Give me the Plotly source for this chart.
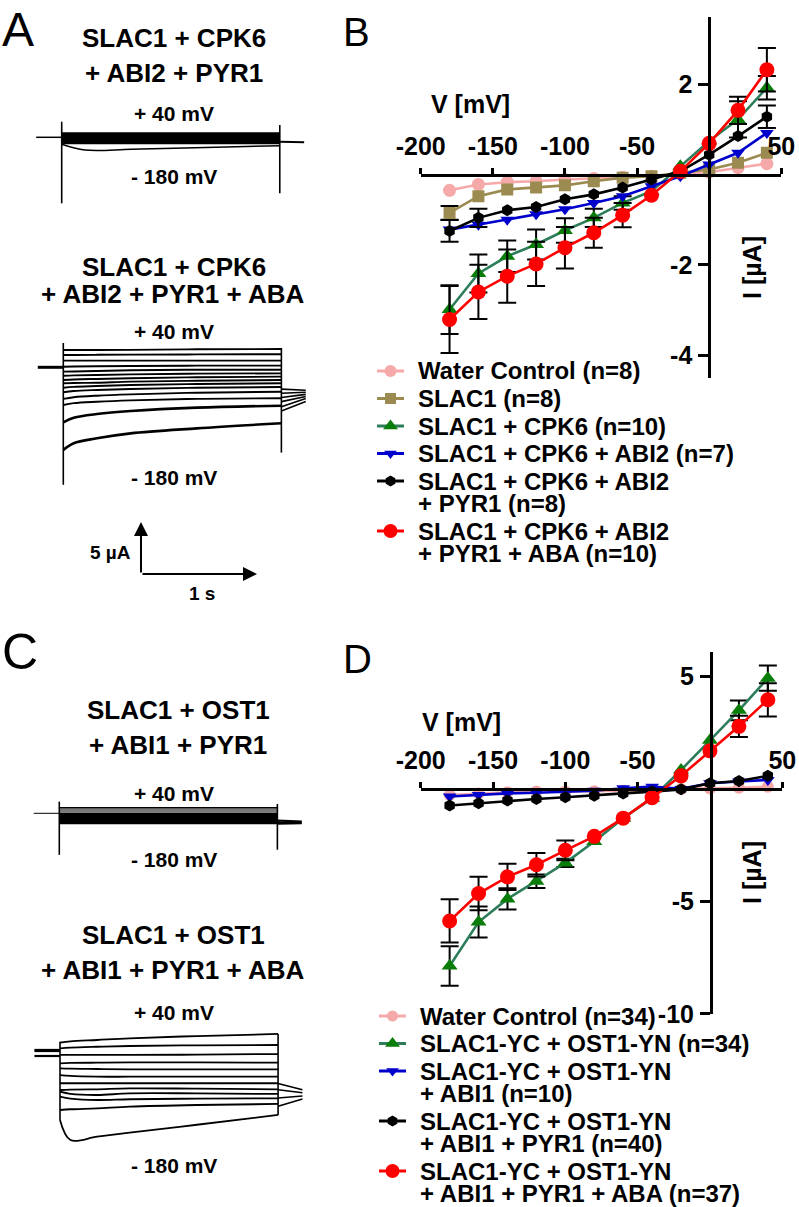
import plotly.graph_objects as go

W, H = 799, 1207
FONT = "Liberation Sans"


def fx(px):
    return px / W


def fy(py):
    return 1 - py / H


# ---------------- Panel B data (I in uA vs V in mV) ----------------
voltage_mV = [-180, -160, -140, -120, -100, -80, -60, -40, -20, 0, 20, 40]

b_names = ["Water Control (n=8)", "SLAC1 (n=8)", "SLAC1 + CPK6 (n=10)",
           "SLAC1 + CPK6 + ABI2 (n=7)", "SLAC1 + CPK6 + ABI2<br>+ PYR1 (n=8)",
           "SLAC1 + CPK6 + ABI2<br>+ PYR1 + ABA (n=10)"]
b_water = [-0.35, -0.22, -0.17, -0.15, -0.11, -0.09, -0.06, -0.04, 0.02, 0.05, 0.15, 0.24]
b_slac1 = [-0.85, -0.48, -0.33, -0.29, -0.24, -0.15, -0.07, -0.04, 0.04, 0.11, 0.26, 0.48]
b_cpk6 = [-2.99, -2.19, -1.81, -1.55, -1.24, -0.96, -0.63, -0.37, 0.18, 0.74, 1.22, 1.92]
b_abi2 = [-1.22, -1.11, -1.00, -0.88, -0.77, -0.63, -0.48, -0.26, -0.04, 0.22, 0.48, 0.92]
b_pyr1 = [-1.25, -0.96, -0.79, -0.72, -0.55, -0.44, -0.29, -0.11, 0.07, 0.44, 0.85, 1.28]
b_aba = [-3.21, -2.60, -2.25, -1.98, -1.62, -1.29, -0.90, -0.46, 0.07, 0.69, 1.42, 2.32]
b_slac1_err = [0.15, None, None, None, None, None, None, None, None, None, None, None]
b_cpk6_err = [0.54, 0.42, 0.35, 0.33, 0.27, 0.20, 0.15, None, None, None, 0.40, 0.26]
b_pyr1_err = [0.24, 0.20, None, None, None, None, None, None, None, None, None, 0.25]
b_aba_err = [0.74, 0.60, 0.59, 0.49, 0.46, 0.33, 0.27, None, None, None, 0.30, 0.48]

# ---------------- Panel D data ----------------
d_names = ["Water Control (n=34)", "SLAC1-YC + OST1-YN (n=34)",
           "SLAC1-YC + OST1-YN<br>+ ABI1 (n=10)",
           "SLAC1-YC + OST1-YN<br>+ ABI1 + PYR1 (n=40)",
           "SLAC1-YC + OST1-YN<br>+ ABI1 + PYR1 + ABA (n=37)"]
d_water = [-0.27, -0.20, -0.15, -0.12, -0.12, -0.10, -0.08, -0.06, 0.00, 0.02, 0.05, 0.10]
d_ost1 = [-7.87, -5.92, -4.89, -4.10, -3.29, -2.34, -1.30, -0.42, 0.84, 2.16, 3.49, 4.92]
d_abi1 = [-0.34, -0.27, -0.20, -0.17, -0.12, -0.08, 0.03, 0.10, 0.00, 0.25, 0.33, 0.40]
d_pyr1 = [-0.74, -0.64, -0.52, -0.45, -0.37, -0.30, -0.20, -0.12, -0.02, 0.25, 0.35, 0.58]
d_aba = [-5.87, -4.65, -3.91, -3.37, -2.73, -2.11, -1.30, -0.39, 0.58, 1.69, 2.78, 3.96]
d_ost1_err = [0.88, 0.69, 0.47, 0.30, 0.18, None, None, None, None, None, 0.44, 0.56]
d_aba_err = [0.96, 0.74, 0.58, 0.52, 0.44, None, None, None, None, None, 0.47, 0.74]

# tick labels (plain hyphen minus, as in the figure)
x_tickvals = [-200, -150, -100, -50, 50]
x_ticktext = ["-200", "-150", "-100", "-50", "50"]
b_tickvals = [-4, -2, 2]
b_ticktext = ["-4", "-2", "2"]
d_tickvals = [-10, -5, 5]
d_ticktext = ["-10", "-5", "5"]

# ---------------- Current traces (t in s, I in uA, relative to holding) ----------------
t_pre = [-0.22, 0.0]
pulse_end_s = 1.88
t_post = [1.88, 2.09]

# A, top: SLAC1 + CPK6 + ABI2 + PYR1
a1_band_uA = [0.38, 0.28, 0.18, 0.08, -0.02, -0.12, -0.22, -0.32, -0.42, -0.52, -0.58]
a1_t180 = [0, 0.2, 0.6, 1.15, 1.88]
a1_i180 = [-0.67, -1.22, -1.15, -1.00, -0.81]
a1_spike_on = [1.50, -6.35]
a1_spike_off = [1.18, -5.38]
a1_tail = [[-0.42, -0.48]]

# A, bottom: + ABA
a2_t = [0, 0.09, 0.29, 0.58, 1.15, 1.88]
a2_traces = [
    [1.66, 1.66, 1.66, 1.68, 1.73, 1.76],
    [1.18, 1.18, 1.20, 1.22, 1.24, 1.26],
    [0.64, 0.64, 0.64, 0.64, 0.64, 0.64],
    [0.06, 0.08, 0.10, 0.12, 0.16, 0.16],
    [-0.42, -0.40, -0.36, -0.29, -0.23, -0.23],
    [-0.81, -0.78, -0.74, -0.68, -0.61, -0.58],
    [-1.22, -1.17, -1.12, -1.06, -0.96, -0.90],
    [-1.54, -1.51, -1.48, -1.38, -1.29, -1.22],
    [-1.96, -1.88, -1.80, -1.70, -1.61, -1.54],
    [-2.40, -2.28, -2.18, -2.09, -1.96, -1.90],
    [-3.04, -2.88, -2.73, -2.60, -2.44, -2.35],
    [-3.62, -3.45, -3.31, -3.18, -3.04, -2.98],
    [-5.29, -4.85, -4.49, -4.20, -3.88, -3.69],
    [-7.95, -7.30, -6.83, -6.35, -5.87, -5.38],
]
a2_spike_on = [2.34, -11.3]
a2_spike_off = [1.86, -8.2]
a2_tail = [[-2.1, -2.2], [-2.5, -2.4], [-2.9, -2.6], [-3.3, -2.8], [-3.8, -3.0], [-4.2, -3.3]]
scale_I_uA = 5
scale_t_s = 1

# C, top: SLAC1 + OST1 + ABI1 + PYR1
c1_band_uA = [0.54, 0.44, 0.34, 0.24, 0.14, 0.04, -0.06, -0.18, -0.30, -0.42, -0.54,
              -0.66, -0.78, -0.90, -0.96]
c1_spike_on = [1.12, -4.0]
c1_spike_off = [0.90, -3.5]
c1_tail = [[-0.70, -0.80], [-0.85, -0.88], [-1.00, -0.95]]

# C, bottom: + ABA
c2_t = [0, 0.09, 0.32, 0.60, 1.18, 1.88]
c2_traces = [
    [1.02, 1.15, 1.28, 1.44, 1.66, 1.86],
    [0.48, 0.55, 0.63, 0.70, 0.77, 0.80],
    [-0.16, -0.16, -0.16, -0.16, -0.13, -0.07],
    [-0.96, -0.93, -0.90, -0.87, -0.87, -0.90],
    [-1.44, -1.48, -1.51, -1.54, -1.54, -1.54],
    [-2.09, -2.18, -2.25, -2.25, -2.25, -2.25],
    [-2.88, -2.88, -2.88, -2.88, -2.88, -2.88],
    [-3.53, -3.50, -3.46, -3.37, -3.40, -3.46],
    [-3.69, -3.90, -4.01, -3.85, -3.85, -3.91],
    [-4.17, -4.35, -4.49, -4.42, -4.36, -4.33],
    [-5.45, -5.38, -5.29, -5.13, -4.97, -4.87],
    [-6.41, -8.34, -8.02, -7.63, -6.87, -5.93],
]
c2_hold = [0.32, 0.22, -0.26]
c2_spike_on = [1.12, -6.41]
c2_spike_off = [1.86, -5.93]
c2_tail = [[-2.9, -3.5], [-3.5, -3.8], [-4.3, -4.1], [-5.1, -4.4]]

fig = go.Figure()

# ---------------- IV panels ----------------
ERR = dict(type="data", color="black", thickness=2, width=9, visible=True)


def add_series(y, err, name, lc, mc, sym, size, xa, ya):
    if err is not None:
        ex = [v for v, e in zip(voltage_mV, err) if e is not None]
        ey = [i for i, e in zip(y, err) if e is not None]
        ee = [e for e in err if e is not None]
        fig.add_trace(go.Scatter(x=ex, y=ey, mode="markers", xaxis=xa, yaxis=ya,
                                 marker=dict(size=1, color="rgba(0,0,0,0)"),
                                 error_y=dict(array=ee, **ERR), hoverinfo="skip"))
    fig.add_trace(go.Scatter(x=voltage_mV, y=y, name=name, mode="lines+markers",
                             xaxis=xa, yaxis=ya,
                             line=dict(color=lc, width=2.6),
                             marker=dict(color=mc, symbol=sym, size=size, line=dict(width=0))))


PINK, TAN = "#F5A9A9", "#9C8B50"
GREEN_L, GREEN_M = "#2E7D5A", "#0A7C0A"
BLUE, RED = "#0000CC", "#FF0000"

b_styles = [
    (b_water, None, PINK, PINK, "circle", 13),
    (b_slac1, b_slac1_err, TAN, TAN, "square", 12),
    (b_cpk6, b_cpk6_err, GREEN_L, GREEN_M, "triangle-up", 14),
    (b_abi2, None, BLUE, BLUE, "triangle-down", 12),
    (b_pyr1, b_pyr1_err, "black", "black", "hexagon", 12),
    (b_aba, b_aba_err, RED, RED, "circle", 15),
]
for (y, e, lc, mc, sym, sz), nm in zip(b_styles, b_names):
    add_series(y, e, nm, lc, mc, sym, sz, "x", "y")

d_styles = [
    (d_water, None, PINK, PINK, "circle", 12),
    (d_ost1, d_ost1_err, GREEN_L, GREEN_M, "triangle-up", 14),
    (d_abi1, None, BLUE, BLUE, "triangle-down", 12),
    (d_pyr1, None, "black", "black", "hexagon", 12),
    (d_aba, d_aba_err, RED, RED, "circle", 15),
]
for (y, e, lc, mc, sym, sz), nm in zip(d_styles, d_names):
    add_series(y, e, nm, lc, mc, sym, sz, "x2", "y2")


# ---------------- Trace panels ----------------
def seg_trace(xs_list, ys_list, xa, ya, width=1.6, color="black", shape="linear"):
    xs, ys = [], []
    for a, b in zip(xs_list, ys_list):
        xs += list(a) + [None]
        ys += list(b) + [None]
    fig.add_trace(go.Scatter(x=xs, y=ys, mode="lines", xaxis=xa, yaxis=ya,
                             line=dict(color=color, width=width, shape=shape),
                             hoverinfo="skip", connectgaps=False))


def spikes(on, off, xa, ya):
    seg_trace([[0, 0], [pulse_end_s, pulse_end_s]], [on, off], xa, ya, width=1.6)


# A top
seg_trace([t_pre], [[0, 0]], "x3", "y3", width=1.5)
seg_trace([[0, pulse_end_s]] * len(a1_band_uA), [[v, v] for v in a1_band_uA], "x3", "y3", width=2)
seg_trace([a1_t180], [a1_i180], "x3", "y3", width=1.5, shape="spline")
spikes(a1_spike_on, a1_spike_off, "x3", "y3")
seg_trace([t_post] * len(a1_tail), a1_tail, "x3", "y3", width=2)

# A bottom
seg_trace([t_pre], [[0, 0]], "x4", "y4", width=3)
seg_trace([a2_t] * 12, a2_traces[:12], "x4", "y4", width=1.9, shape="spline")
seg_trace([a2_t] * 2, a2_traces[12:], "x4", "y4", width=2.6, shape="spline")
spikes(a2_spike_on, a2_spike_off, "x4", "y4")
seg_trace([t_post] * len(a2_tail), a2_tail, "x4", "y4", width=1.6)

# C top
seg_trace([t_pre], [[0, 0]], "x5", "y5", width=1)
seg_trace([[0, pulse_end_s]] * 6, [[v, v] for v in c1_band_uA[:6]], "x5", "y5", width=1, color="#555555")
seg_trace([[0, pulse_end_s]], [[c1_band_uA[0]] * 2], "x5", "y5", width=1.3)
seg_trace([[0, pulse_end_s]] * (len(c1_band_uA) - 6), [[v, v] for v in c1_band_uA[6:]], "x5", "y5", width=2)
spikes(c1_spike_on, c1_spike_off, "x5", "y5")
seg_trace([t_post] * len(c1_tail), c1_tail, "x5", "y5", width=2)

# C bottom
seg_trace([t_pre] * len(c2_hold), [[v, v] for v in c2_hold], "x6", "y6", width=2.2)
seg_trace([c2_t] * len(c2_traces), c2_traces, "x6", "y6", width=1.8, shape="spline")
spikes(c2_spike_on, c2_spike_off, "x6", "y6")
seg_trace([t_post] * len(c2_tail), c2_tail, "x6", "y6", width=1.5)

# ---------------- Layout: axes ----------------
tickfont = dict(family=FONT, size=25, color="black", weight="bold")
axis_common = dict(showgrid=False, zeroline=False, showline=True, linewidth=3,
                   linecolor="black", ticks="outside", tickwidth=3, tickcolor="black",
                   tickfont=tickfont, fixedrange=True, automargin=False)

# panel B geometry (pixels)
B_X0, B_X1 = 420.7, 781.3
B_Y0 = 174.5           # y pixel of I = 0
B_S = 45.17            # px per uA
B_TOP, B_BOT = 17, 378
B_YAX = 709.3
# panel D geometry
D_X0, D_X1 = 420.7, 782.3
D_Y0 = 788.9
D_S = 22.5
D_TOP, D_BOT = 651.7, 1013.9
D_YAX = 711

layout = dict(
    width=W, height=H, margin=dict(l=0, r=0, t=0, b=0, pad=0, autoexpand=False),
    autosize=False,
    paper_bgcolor="white", plot_bgcolor="rgba(0,0,0,0)", showlegend=False,
    font=dict(family=FONT, color="black"),
    xaxis=dict(domain=[fx(B_X0), fx(B_X1)], range=[-200, 50], anchor="free",
               position=fy(B_Y0), side="top", tickvals=x_tickvals, ticktext=x_ticktext,
               ticklen=6, ticklabelstandoff=3, **axis_common),
    yaxis=dict(domain=[fy(B_BOT), fy(B_TOP)],
               range=[(B_Y0 - B_BOT) / B_S, (B_Y0 - B_TOP) / B_S],
               anchor="free", position=fx(B_YAX), side="left", tickvals=b_tickvals,
               ticktext=b_ticktext, ticklen=10, ticklabelstandoff=1, **axis_common),
    xaxis2=dict(domain=[fx(D_X0), fx(D_X1)], range=[-200, 50], anchor="free",
                position=fy(D_Y0), side="top", tickvals=x_tickvals, ticktext=x_ticktext,
                ticklen=6, ticklabelstandoff=3, **axis_common),
    yaxis2=dict(domain=[fy(D_BOT), fy(D_TOP)],
                range=[(D_Y0 - D_BOT) / D_S, (D_Y0 - D_TOP) / D_S],
                anchor="free", position=fx(D_YAX), side="left", tickvals=d_tickvals,
                ticktext=d_ticktext, ticklen=10, ticklabelstandoff=1, **axis_common),
)

PX_PER_S = 116.0
PX_PER_UA = 10.4
hidden = dict(visible=False, showgrid=False, zeroline=False, fixedrange=True, automargin=False)


def trace_axes(n, x0, y0, xa, xb, ya, yb):
    layout["xaxis%d" % n] = dict(domain=[fx(xa), fx(xb)],
                                 range=[(xa - x0) / PX_PER_S, (xb - x0) / PX_PER_S],
                                 anchor="y%d" % n, **hidden)
    layout["yaxis%d" % n] = dict(domain=[fy(yb), fy(ya)],
                                 range=[(y0 - yb) / PX_PER_UA, (y0 - ya) / PX_PER_UA],
                                 anchor="x%d" % n, **hidden)


trace_axes(3, 61.7, 137.3, 0, 320, 110, 215)
trace_axes(4, 63.3, 367.3, 0, 320, 330, 610)
trace_axes(5, 59.3, 813.3, 0, 320, 795, 870)
trace_axes(6, 60.0, 1053.3, 0, 320, 1020, 1150)
# pixel overlay for the legends
layout["xaxis7"] = dict(domain=[0, 1], range=[0, W], anchor="y7", **hidden)
layout["yaxis7"] = dict(domain=[0, 1], range=[H, 0], anchor="x7", **hidden)

ann = []


def text(x, y, s, size, bold=True, xanchor="center", angle=0):
    ann.append(dict(x=fx(x), y=fy(y), xref="paper", yref="paper", text=s,
                    showarrow=False, xanchor=xanchor, yanchor="middle", textangle=angle,
                    font=dict(family=FONT, size=size, color="black",
                              weight="bold" if bold else "normal")))


# panel letters
text(0, 29, "A", 48, bold=False, xanchor="left")
text(341, 32, "B", 40, bold=False, xanchor="left")
text(0, 652, "C", 50, bold=False, xanchor="left")
text(341, 659, "D", 40, bold=False, xanchor="left")

# axis titles
text(470, 104, "V [mV]", 25)
text(752, 268, "I [µA]", 25, angle=-90)
text(461, 722, "V [mV]", 25)
text(752, 873, "I [µA]", 25, angle=-90)

# trace titles
TS = 26
text(174, 38, "SLAC1 + CPK6", TS)
text(174, 73, "+ ABI2 + PYR1", TS)
text(174, 113, "+ 40 mV", 21)
text(174, 177, "- 180 mV", 21)
text(174, 267, "SLAC1 + CPK6", TS)
text(172, 294, "+ ABI2 + PYR1 + ABA", TS)
text(174, 331, "+ 40 mV", 21)
text(174, 477, "- 180 mV", 21)
text(178, 710, "SLAC1 + OST1", TS)
text(178, 745, "+ ABI1 + PYR1", TS)
text(174, 793, "+ 40 mV", 21)
text(174, 859, "- 180 mV", 21)
text(173, 935, "SLAC1 + OST1", TS)
text(172, 970, "+ ABI1 + PYR1 + ABA", TS)
text(174, 1012, "+ 40 mV", 21)
text(174, 1165, "- 180 mV", 21)

# scale bar (in the data units of the A-bottom traces)
sb_t0 = (141 - 63.3) / PX_PER_S
sb_i0 = (367.3 - 574) / PX_PER_UA
for hx, hy in [(sb_t0, sb_i0 + scale_I_uA), (sb_t0 + scale_t_s, sb_i0)]:
    ann.append(dict(x=hx, y=hy, ax=sb_t0, ay=sb_i0, xref="x4", yref="y4",
                    axref="x4", ayref="y4", showarrow=True, arrowhead=2,
                    arrowsize=1.4, arrowwidth=2, arrowcolor="black", text=""))
text(133, 552, "5 µA", 19, xanchor="right")
text(202, 593, "1 s", 19)


# legends
def legend(entries, styles, x_line0, x_line1, x_text, y_base, entry_gap=27.5, line_gap=22.5):
    y = y_base
    for name, st in zip(entries, styles):
        _, _, lc, mc, sym, sz = st
        xm = (x_line0 + x_line1) / 2
        fig.add_trace(go.Scatter(x=[x_line0, x_line1], y=[y, y], mode="lines",
                                 xaxis="x7", yaxis="y7", line=dict(color=lc, width=3),
                                 hoverinfo="skip"))
        fig.add_trace(go.Scatter(x=[xm], y=[y], mode="markers", xaxis="x7", yaxis="y7",
                                 marker=dict(color=mc, symbol=sym, size=sz - 1),
                                 hoverinfo="skip"))
        lines = name.split("<br>")
        for k, ln in enumerate(lines):
            text(x_text, y + k * line_gap, ln, 24, xanchor="left")
        y += (len(lines) - 1) * line_gap + entry_gap


legend(b_names, b_styles, 377, 404, 416, 371)
legend(d_names, d_styles, 379, 406, 418, 1016)

layout["annotations"] = ann
fig.update_layout(**layout)
fig.write_html("out.html", config={"displayModeBar": False, "staticPlot": True},
               post_script="document.body.style.margin='0px';"
                           "document.body.style.overflow='hidden';")
